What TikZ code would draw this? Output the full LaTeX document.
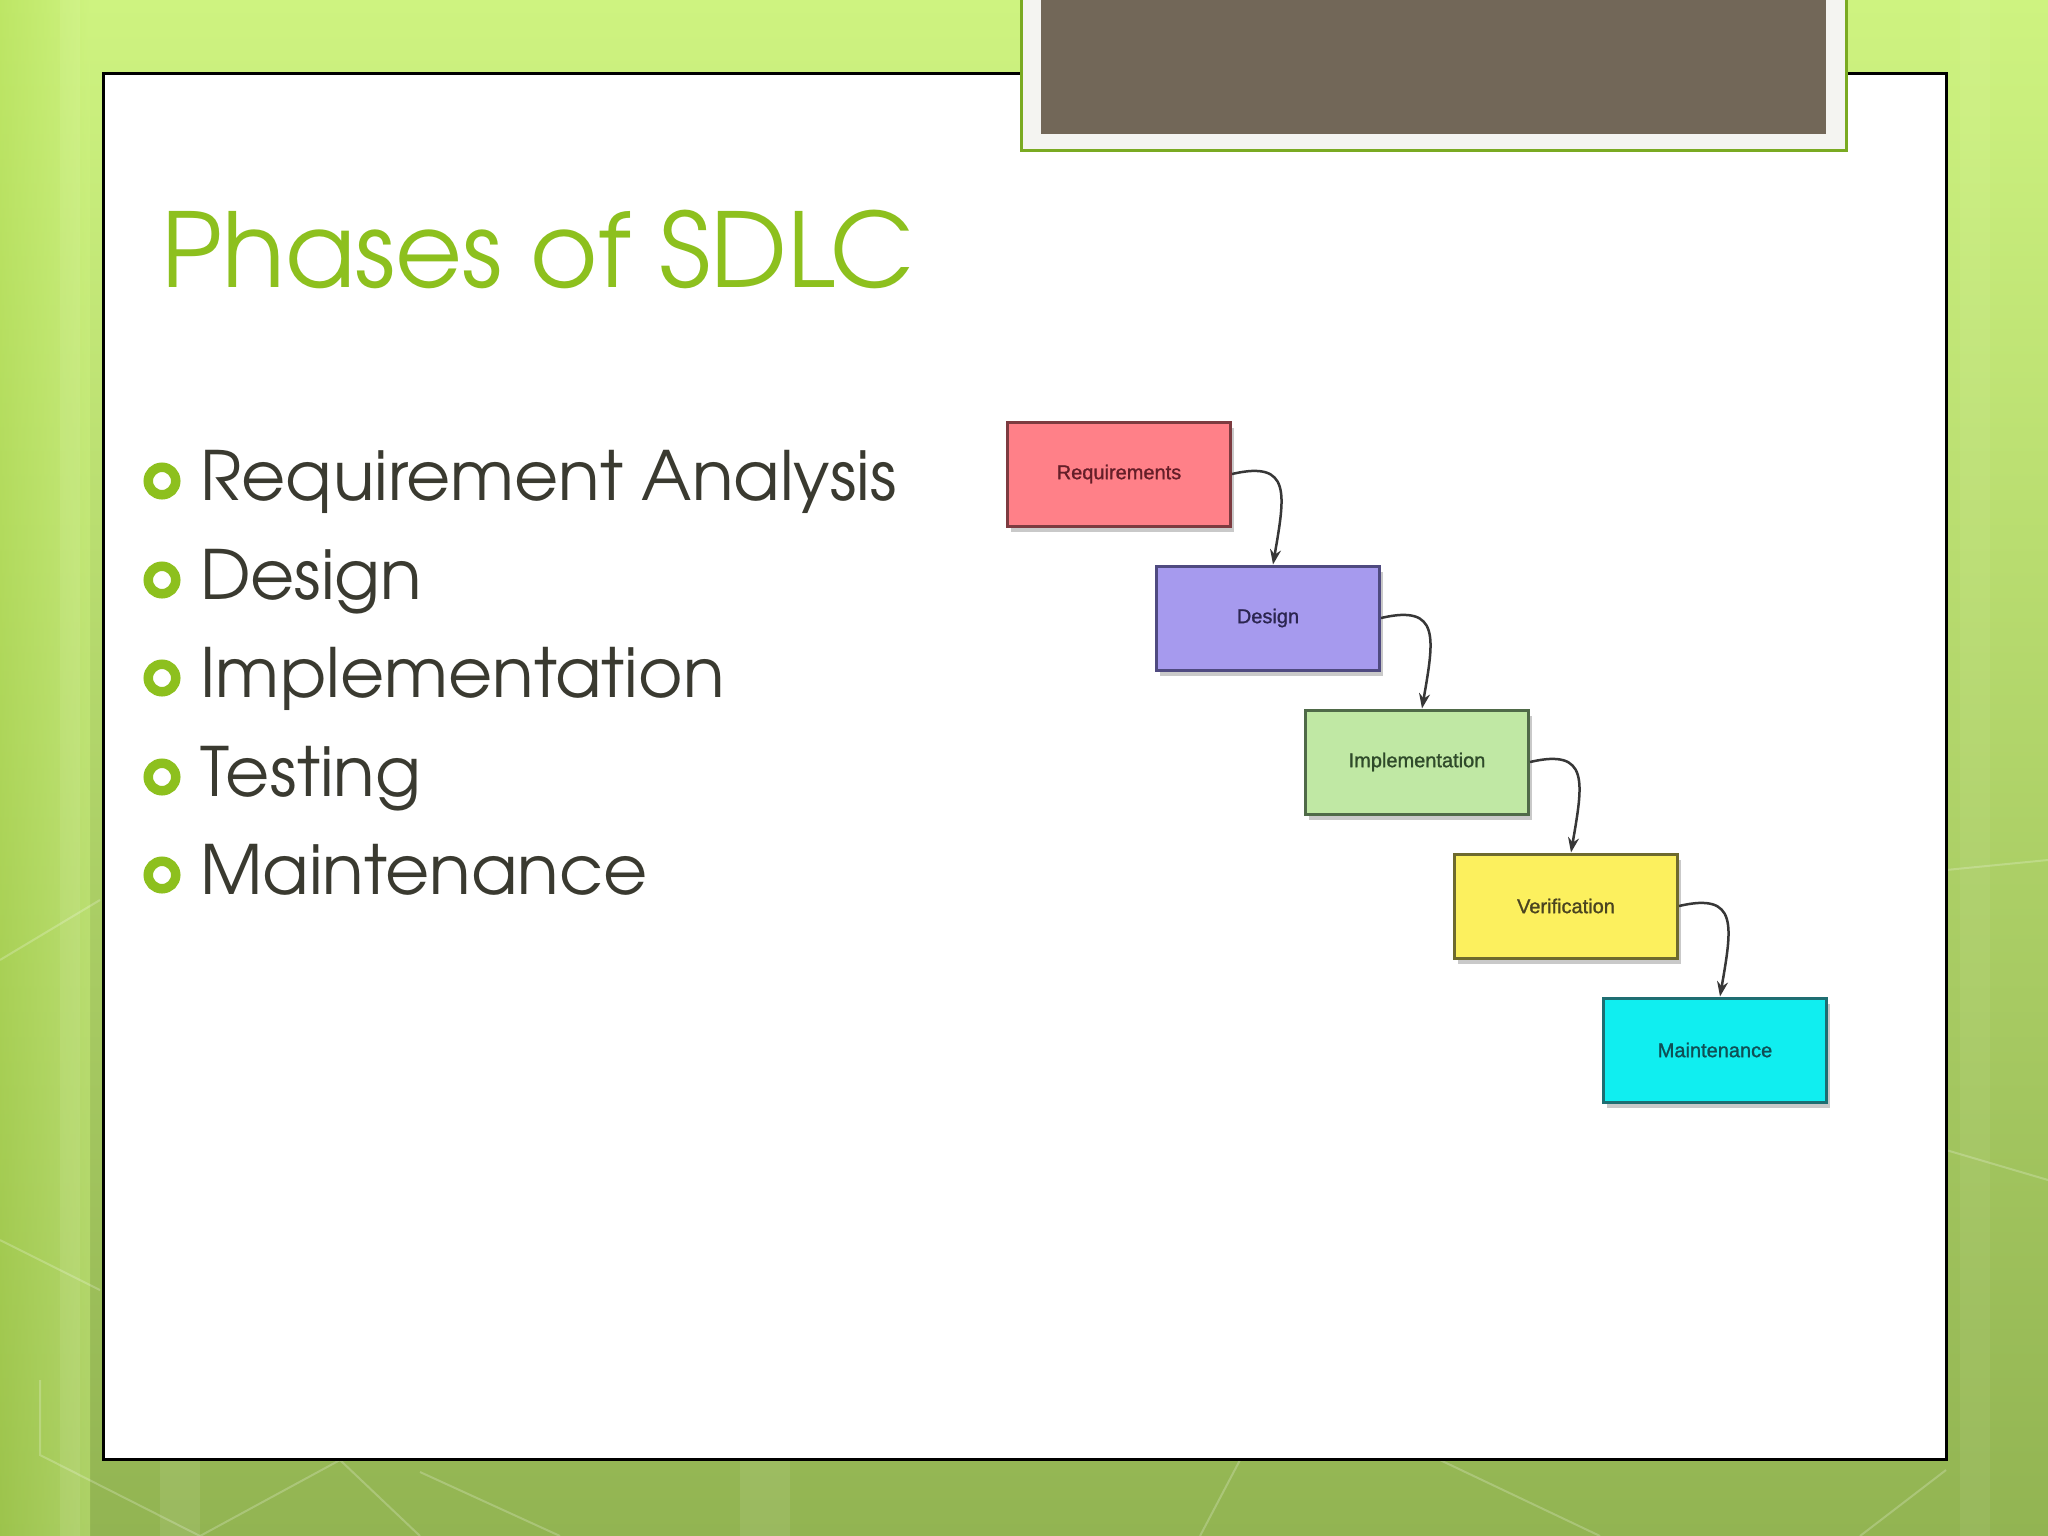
\documentclass[tikz,border=0pt]{standalone}
\usepackage{fontspec}
\setmainfont{texgyreadventor}[Extension=.otf,UprightFont=*-regular,BoldFont=*-bold]
\newfontfamily\boxfont{Liberation Sans}[FakeBold=1.2]
\usetikzlibrary{shadows,arrows.meta}
\definecolor{bgtop}{RGB}{206,243,128}
\definecolor{bgbot}{RGB}{146,180,82}
\definecolor{bgleft}{RGB}{170,215,70}
\definecolor{titlegreen}{RGB}{141,192,30}
\definecolor{bodytext}{RGB}{58,58,48}
\definecolor{framewhite}{RGB}{244,244,241}
\definecolor{framegreen}{RGB}{122,170,34}
\definecolor{greybox}{RGB}{114,103,88}
\definecolor{reqfill}{RGB}{255,128,136}
\definecolor{reqdraw}{RGB}{125,59,64}
\definecolor{reqtext}{RGB}{100,30,40}
\definecolor{desfill}{RGB}{166,154,238}
\definecolor{desdraw}{RGB}{79,74,128}
\definecolor{destext}{RGB}{43,37,80}
\definecolor{impfill}{RGB}{192,232,164}
\definecolor{impdraw}{RGB}{79,106,72}
\definecolor{imptext}{RGB}{47,74,42}
\definecolor{verfill}{RGB}{252,240,94}
\definecolor{verdraw}{RGB}{110,106,46}
\definecolor{vertext}{RGB}{74,68,32}
\definecolor{maifill}{RGB}{16,238,240}
\definecolor{maidraw}{RGB}{30,110,114}
\definecolor{maitext}{RGB}{15,79,85}
\definecolor{arrowgrey}{RGB}{55,55,55}
\tikzset{
  phase/.style={rectangle, minimum width=223pt, minimum height=104pt, line width=3pt,
    font=\boxfont\fontsize{20}{24}\selectfont,
    drop shadow={shadow xshift=3pt, shadow yshift=-6pt, opacity=0.35, fill=black!60}},
  conn/.style={draw=arrowgrey, line width=2.5pt, -{Stealth[length=15pt,width=11pt]}},
  bullettext/.style={anchor=base west, inner sep=0pt, text=bodytext, font=\fontsize{68}{72}\selectfont},
  bulletring/.style={draw=titlegreen, line width=9.5pt},
  deco/.style={draw=white, opacity=0.22, line width=2pt}
}
\begin{document}
\begin{tikzpicture}[x=1pt,y=-1pt]
\useasboundingbox (0,0) rectangle (2048,1536);
% background
\shade[top color=bgtop, bottom color=bgbot] (0,0) rectangle (2048,1536);
\shade[left color=bgleft, right color=bgtop, opacity=0.45] (0,0) rectangle (90,1536);
\fill[white, opacity=0.08] (60,0) rectangle (80,1536);
\fill[white, opacity=0.08] (160,1460) rectangle (200,1536);
\fill[white, opacity=0.08] (740,1460) rectangle (790,1536);
\fill[white, opacity=0.06] (1960,0) rectangle (1990,1536);
\draw[deco] (40,1380) -- (40,1455) -- (200,1536);
\draw[deco] (200,1536) -- (340,1460);
\draw[deco] (340,1460) -- (420,1536);
\draw[deco] (420,1472) -- (560,1536);
\draw[deco] (1200,1536) -- (1240,1460);
\draw[deco] (1440,1460) -- (1600,1536);
\draw[deco] (1860,1536) -- (1946,1470);
\draw[deco] (1946,870) -- (2048,860);
\draw[deco] (1946,1150) -- (2048,1180);
\draw[deco] (0,960) -- (100,900);
\draw[deco] (0,1240) -- (100,1290);
% panel
\draw[line width=3pt, fill=white] (103,74) rectangle (1946,1459);
% top frame
\fill[framewhite] (1021,-10) rectangle (1846,151);
\draw[framegreen, line width=3pt] (1021,-10) -- (1021,151) -- (1846,151) -- (1846,-10);
\fill[greybox] (1041,-10) rectangle (1826,134);
% title
\node[anchor=base west, inner sep=0pt, text=titlegreen, font=\fontsize{103}{110}\selectfont] (title) at (161,287) {Phases of SDLC};
% bullets
\draw[bulletring] (162,481) circle (13.75);
\node[bullettext] (b1) at (200,500) {Requirement Analysis};
\draw[bulletring] (162,580) circle (13.75);
\node[bullettext] (b2) at (200,599) {Design};
\draw[bulletring] (162,678) circle (13.75);
\node[bullettext] (b3) at (200,697) {Implementation};
\draw[bulletring] (162,777) circle (13.75);
\node[bullettext] (b4) at (200,796) {Testing};
\draw[bulletring] (162,875) circle (13.75);
\node[bullettext] (b5) at (200,894) {Maintenance};
% diagram
\node[phase, fill=reqfill, draw=reqdraw, text=reqtext] (req) at (1119,474) {Requirements};
\node[phase, fill=desfill, draw=desdraw, text=destext] (des) at (1268,618) {Design};
\node[phase, fill=impfill, draw=impdraw, text=imptext] (imp) at (1417,762) {Implementation};
\node[phase, fill=verfill, draw=verdraw, text=vertext] (ver) at (1566,906) {Verification};
\node[phase, fill=maifill, draw=maidraw, text=maitext] (mai) at (1715,1050) {Maintenance};
\draw[conn] (req.east) .. controls +(60,-14) and +(12,-70) .. ([xshift=5pt]des.north);
\draw[conn] (des.east) .. controls +(60,-14) and +(12,-70) .. ([xshift=5pt]imp.north);
\draw[conn] (imp.east) .. controls +(60,-14) and +(12,-70) .. ([xshift=5pt]ver.north);
\draw[conn] (ver.east) .. controls +(60,-14) and +(12,-70) .. ([xshift=5pt]mai.north);
\end{tikzpicture}
\end{document}
